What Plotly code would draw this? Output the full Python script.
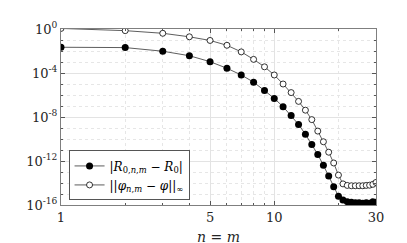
import plotly.graph_objects as go

n = list(range(1, 31))
# log10 of errors
logR = [-1.66, -1.69, -2.02, -2.43, -2.97, -3.57, -4.18, -4.83, -5.6, -6.31,
        -7.06, -7.86, -8.68, -9.57, -10.5, -11.41, -12.39, -13.37, -14.35, -15.2,
        -15.55, -15.7, -15.75, -15.8, -15.8, -15.85, -15.8, -15.85, -15.7, -15.75]
logPhi = [0.05, -0.15, -0.39, -0.71, -1.04, -1.48, -2.08, -2.76, -3.44, -4.18,
          -5.0, -5.78, -6.58, -7.38, -8.24, -9.28, -10.25, -11.2, -12.18, -13.28,
          -14.08, -14.22, -14.25, -14.25, -14.25, -14.25, -14.22, -14.2, -14.12, -13.95]
R_err = [10 ** v for v in logR]
phi_err = [10 ** v for v in logPhi]

ytick_vals = [1, 1e-4, 1e-8, 1e-12, 1e-16]
ytick_text = ["10<sup>0</sup>", "10<sup>-4</sup>", "10<sup>-8</sup>", "10<sup>-12</sup>", "10<sup>-16</sup>"]
xtick_vals = [1, 5, 10, 30]
xtick_text = ["1", "5", "10", "30"]

font = "DejaVu Serif"

fig = go.Figure()
fig.add_trace(go.Scatter(
    x=n, y=R_err, mode="lines+markers",
    name="|<i>R</i><sub>0,<i>n</i>,<i>m</i></sub> − <i>R</i><sub>0</sub>|",
    line=dict(color="#333333", width=0.8),
    marker=dict(symbol="circle", size=7, color="black"),
))
fig.add_trace(go.Scatter(
    x=n, y=phi_err, mode="lines+markers",
    name="||<i>φ</i><sub><i>n</i>,<i>m</i></sub> − <i>φ</i>||<sub>∞</sub>",
    line=dict(color="#333333", width=0.8),
    marker=dict(symbol="circle", size=6, color="white", line=dict(color="black", width=0.8)),
))

axis_common = dict(
    showline=True, linecolor="#7f7f7f", linewidth=1, mirror="allticks",
    ticks="inside", ticklen=4, tickcolor="#555555",
    showgrid=True, gridcolor="#e3e3e3", gridwidth=1,
    zeroline=False,
    tickfont=dict(family=font, size=13, color="#262626"),
)

fig.update_xaxes(
    type="log", range=[0, 1.4771], tickvals=xtick_vals, ticktext=xtick_text,
    minor=dict(tickvals=[2, 3, 4, 6, 7, 8, 9, 20], showgrid=True, gridcolor="#e6e6e6",
               griddash="dot", ticks="inside", ticklen=2, tickcolor="#555555"),
    **axis_common,
)
fig.update_yaxes(
    type="log", range=[-16, 0], tickvals=ytick_vals, ticktext=ytick_text,
    minor=dict(tickvals=[10 ** -k for k in range(1, 16) if k % 4 != 0], showgrid=True,
               gridcolor="#e6e6e6", griddash="dot", ticks="inside", ticklen=2, tickcolor="#555555"),
    **axis_common,
)

fig.add_annotation(
    text="<i>n</i> = <i>m</i>", xref="paper", yref="paper", x=0.5, y=-0.18,
    xanchor="center", yanchor="middle", showarrow=False,
    font=dict(family=font, size=14, color="#262626"),
)

fig.update_layout(
    width=407, height=243,
    margin=dict(l=53, r=39, t=17, b=46),
    plot_bgcolor="white", paper_bgcolor="white",
    font=dict(family=font),
    showlegend=True,
    legend=dict(
        x=0.024, y=0.026, xanchor="left", yanchor="bottom",
        bgcolor="white", bordercolor="#555555", borderwidth=1,
        font=dict(family=font, size=12, color="black"),
        itemwidth=30, tracegroupgap=0,
    ),
)

fig.write_html("out.html")
